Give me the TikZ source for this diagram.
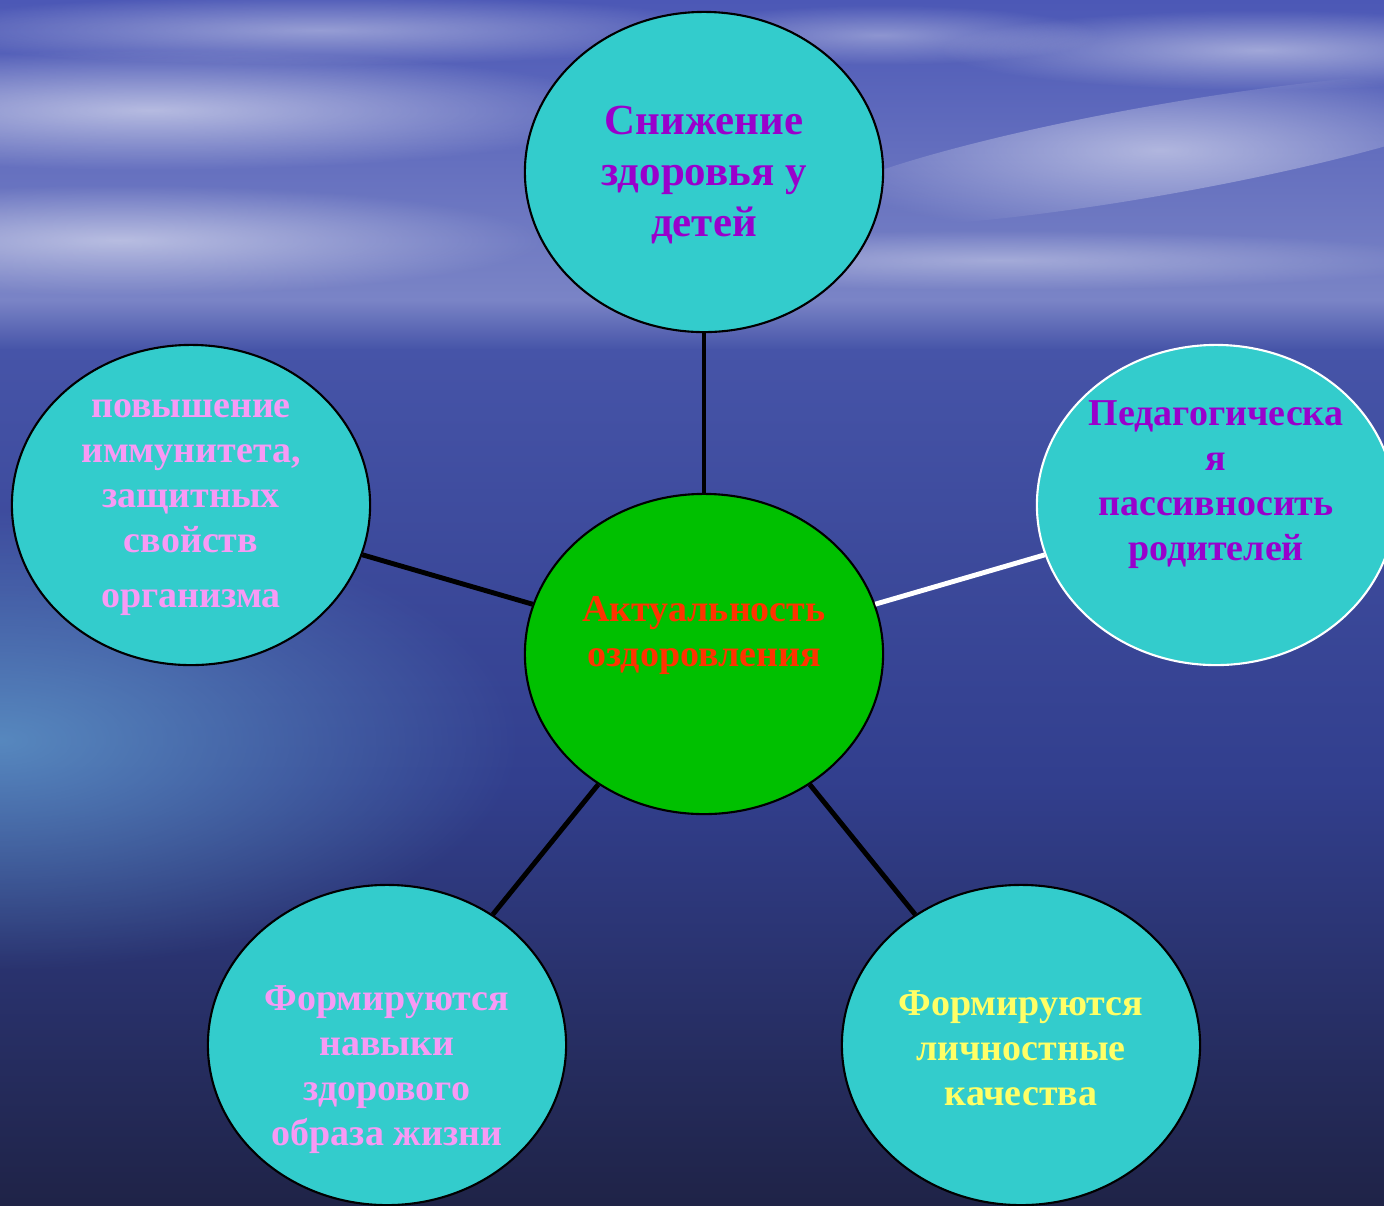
\documentclass[tikz,border=0pt]{standalone}
\usepackage{fontspec}
\setmainfont{Liberation Serif}
\usetikzlibrary{shapes.geometric,fadings}
\definecolor{bubblecyan}{HTML}{33CCCC}
\definecolor{coregreen}{HTML}{00C000}
\definecolor{corered}{HTML}{FF3300}
\definecolor{violetword}{HTML}{9900CC}
\definecolor{pinkword}{HTML}{F79AF5}
\definecolor{yellowword}{HTML}{FFFF66}
\definecolor{skytop}{HTML}{4C58B6}
\definecolor{skylow}{HTML}{7A84C6}
\definecolor{horizon}{HTML}{A6ACD6}
\definecolor{seatop}{HTML}{4654A8}
\definecolor{seamid}{HTML}{323F8E}
\definecolor{seabottom}{HTML}{1F2347}
\definecolor{seaglow}{HTML}{66A6D2}
\newcommand\bigwords{\fontsize{12.2}{14.6}\selectfont\bfseries}
\newcommand\smallwords{\fontsize{10.8}{12.8}\selectfont\bfseries}
\tikzfading[name=softglow, inner color=transparent!0, outer color=transparent!100]
\tikzset{
        bubble/.style={ellipse, draw=black, line width=0.6pt, fill=bubblecyan, minimum width=3.58cm, minimum height=3.2cm, inner sep=0pt},
        core/.style={bubble, fill=coregreen},
        whitebubble/.style={bubble, draw=white},
        link/.style={line width=1.4pt, draw=black},
        whitelink/.style={line width=1.4pt, draw=white},
        words/.style={font=\smallwords, align=center},
        cloud/.style={white, path fading=softglow}
          }
\begin{document}
\begin{tikzpicture}[x=0.01cm, y=-0.01cm]
            \useasboundingbox (0,0) rectangle (1384,1205);
            \clip (0,0) rectangle (1384,1205);
            % sky and sea
            \shade[top color=skytop, bottom color=skylow] (0,0) rectangle (1384,301);
            \shade[top color=skylow, middle color=horizon, bottom color=seatop] (0,300) rectangle (1384,350);
            \shade[top color=seatop, bottom color=seabottom, middle color=seamid] (0,349) rectangle (1384,1205);
            \fill[cloud, opacity=0.55] (150,110) ellipse (480 and 60);
            \fill[cloud, opacity=0.5] (120,240) ellipse (420 and 55);
            \fill[cloud, opacity=0.4] (320,30) ellipse (420 and 35);
            \fill[cloud, opacity=0.5, rotate around={10:(1160,150)}] (1160,150) ellipse (360 and 45);
            \fill[cloud, opacity=0.45] (1260,50) ellipse (320 and 40);
            \fill[cloud, opacity=0.35] (880,35) ellipse (220 and 30);
            \fill[cloud, opacity=0.35] (1000,260) ellipse (450 and 30);
            \fill[seaglow, opacity=0.7, path fading=softglow] (0,740) ellipse (520 and 230);
            % bubbles
            \node[core] (core) at (704,654) {};
            \node[bubble] (children) at (704,172) {};
            \node[bubble] (immunity) at (191,505) {};
            \node[whitebubble] (parents) at (1216,505) {};
            \node[bubble] (lifestyle) at (387,1045) {};
            \node[bubble] (traits) at (1021,1045) {};
            % links
            \draw[link] (core) -- (children);
            \draw[link] (core) -- (immunity);
            \draw[whitelink] (core) -- (parents);
            \draw[link] (core) -- (lifestyle);
            \draw[link] (core) -- (traits);
            % texts
            \node[words, font=\bigwords, text=violetword] (childrentext) at (704,175) {Снижение\\здоровья у\\детей};
            \node[words, text=corered] (coretext) at (704,635) {Актуальность\\оздоровления};
            \node[words, text=violetword] (parentstext) at (1216,485) {Педагогическа\\я\\пассивносить\\родителей};
            \node[words, text=pinkword] (immunitytext) at (191,508) {повышение\\иммунитета,\\защитных\\свойств\\[0.1cm]организма};
            \node[words, text=pinkword] (lifestyletext) at (387,1070) {Формируются\\навыки\\здорового\\образа жизни};
            \node[words, text=yellowword] (traitstext) at (1021,1048) {Формируются\\личностные\\качества};
          \end{tikzpicture}
\end{document}
